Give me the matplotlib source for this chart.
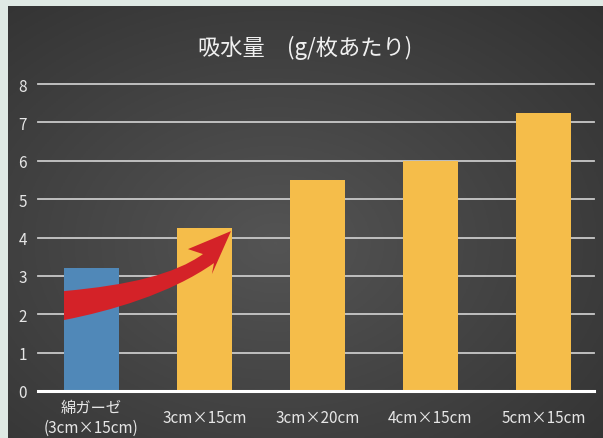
import numpy as np
import matplotlib
matplotlib.use("Agg")
import matplotlib.pyplot as plt
from matplotlib.path import Path
from matplotlib.patches import PathPatch

plt.rcParams["font.family"] = ["Noto Sans CJK JP", "DejaVu Sans"]

# data
categories = ["綿ガーゼ\n(3cm×15cm)", "3cm×15cm", "3cm×20cm", "4cm×15cm", "5cm×15cm"]
values = [3.2, 4.25, 5.5, 6.0, 7.25]
bar_colors = ["#5088b8", "#f5bd4a", "#f5bd4a", "#f5bd4a", "#f5bd4a"]
yticks = [0, 1, 2, 3, 4, 5, 6, 7, 8]
title = "吸水量　(g/枚あたり)"

fig = plt.figure(figsize=(6.03, 4.39), dpi=100)
fig.patch.set_facecolor("#dfe9e4")

# dark panel with soft radial gradient
bg = fig.add_axes([8 / 603, 0, 595 / 603, 432 / 439])
yy, xx = np.mgrid[0:1:200j, 0:1:260j]
r = np.sqrt(((xx - 0.45) / 0.8) ** 2 + ((yy - 0.45) / 0.8) ** 2)
shade = np.clip(0.33 - 0.14 * r, 0.19, 0.34)
bg.imshow(np.dstack([shade] * 3), aspect="auto", extent=[0, 1, 0, 1], origin="lower")
bg.set_axis_off()

ax = fig.add_axes([38 / 603, 47 / 439, 556 / 603, 307 / 439])
ax.patch.set_alpha(0)
x = np.arange(len(categories))

for yv in yticks[1:]:
    ax.axhline(yv, color="#c9c9c9", lw=1.3, zorder=1, clip_on=False)
ax.axhline(0, color="#ffffff", lw=2.2, zorder=3, clip_on=False)

ax.bar(x, values, width=0.487, color=bar_colors, zorder=2)

ax.set_xlim(-0.473, 4.447)
ax.set_ylim(0, 8)
ax.set_yticks(yticks)
ax.set_xticks(x)
ax.set_xticklabels(categories, fontsize=11, color="#e6e6e6", linespacing=1.25)
for lab in ax.get_xticklabels():
    lab.set_verticalalignment("center")
ax.tick_params(axis="y", length=0, pad=8, labelsize=11, labelcolor="#e6e6e6")
ax.tick_params(axis="x", length=0, pad=19)
for s in ax.spines.values():
    s.set_visible(False)

# red curved arrow from the gauze bar to the 3cm×15cm bar
verts = [
    (-0.243, 2.604),
    (0.341, 2.76), (0.739, 3.047), (0.987, 3.568),
    (0.854, 3.698),
    (1.235, 4.167),
    (1.066, 3.047),
    (1.084, 3.333),
    (0.695, 2.526), (0.164, 2.083), (-0.243, 1.849),
    (-0.243, 2.604),
]
codes = [Path.MOVETO,
         Path.CURVE4, Path.CURVE4, Path.CURVE4,
         Path.LINETO, Path.LINETO, Path.LINETO, Path.LINETO,
         Path.CURVE4, Path.CURVE4, Path.CURVE4,
         Path.CLOSEPOLY]
ax.add_patch(PathPatch(Path(verts, codes), facecolor="#d42228", edgecolor="none", zorder=4))

fig.text(0.5 + 4 / 603, 1 - 48 / 439, title, ha="center", va="center",
         fontsize=16, color="#f0f0f0")

fig.savefig("out.png", dpi=100)
